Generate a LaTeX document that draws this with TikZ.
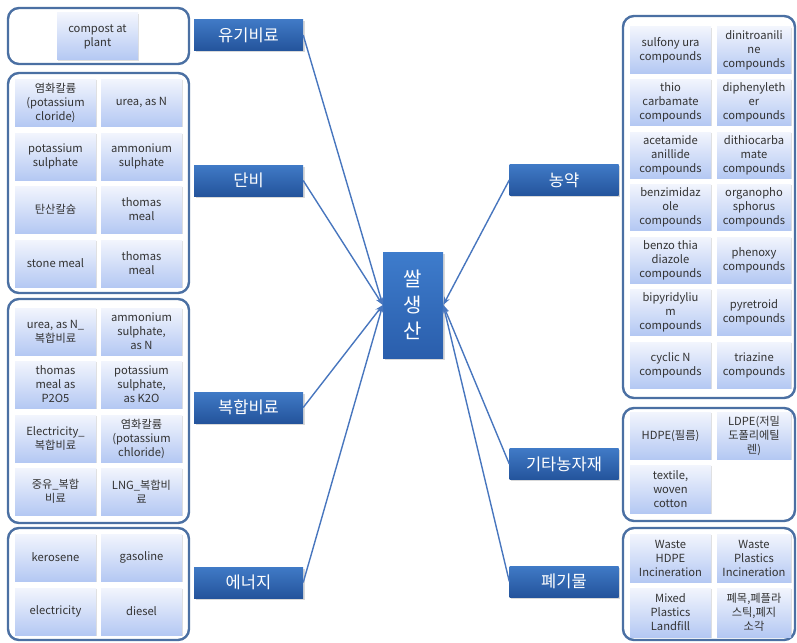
\documentclass[tikz,border=0pt]{standalone}
\usepackage{fontspec}
\setmainfont{Noto Sans CJK KR}
\usetikzlibrary{arrows.meta,shadows}

\definecolor{grpline}{RGB}{75,112,163}
\definecolor{itemtop}{RGB}{242,245,253}
\definecolor{itembot}{RGB}{180,200,243}
\definecolor{labtop}{RGB}{64,122,198}
\definecolor{labbot}{RGB}{36,84,156}
\definecolor{ctrtop}{RGB}{62,124,204}
\definecolor{ctrbot}{RGB}{42,94,172}
\definecolor{connc}{RGB}{72,118,190}
\definecolor{txt}{RGB}{51,51,51}

\tikzset{
  group/.style={draw=grpline, line width=2.4pt, rounded corners=11pt, fill=white, inner sep=0pt},
  item/.style={top color=itemtop, bottom color=itembot, inner sep=1pt, align=center,
    text=txt, font=\fontsize{11.2}{14}\selectfont,
    drop shadow={shadow xshift=1.2pt, shadow yshift=-1.2pt, opacity=0.25}},
  cat/.style={top color=labtop, bottom color=labbot, minimum width=109pt, minimum height=31pt,
    inner sep=0pt, text=white, font=\fontsize{16.5}{19}\selectfont,
    drop shadow={shadow xshift=1.5pt, shadow yshift=-1.5pt, opacity=0.3}},
  hub/.style={top color=ctrtop, bottom color=ctrbot, minimum width=60pt, minimum height=106pt,
    inner sep=0pt, text=white, align=center, font=\fontsize{20}{26}\selectfont,
    drop shadow={shadow xshift=1.5pt, shadow yshift=-1.5pt, opacity=0.3}},
  lw/.style={item, minimum width=81pt, minimum height=47pt},
  rw/.style={item, minimum width=81pt, minimum height=46pt},
  rn/.style={item, minimum width=74pt, minimum height=46pt},
  conn/.style={draw=connc, line width=1.4pt, -{Stealth[length=8pt,width=6pt]}}
}

\begin{document}
\begin{tikzpicture}[x=1pt,y=-1pt]
\useasboundingbox (0,0) rectangle (797,642);

% left-hand groups
\node[group, minimum width=181pt, minimum height=56pt] (g1) at (98.5,36) {};
\node[group, minimum width=181pt, minimum height=220pt] (g2) at (98.5,183) {};
\node[group, minimum width=181pt, minimum height=224pt] (g3) at (98.5,411) {};
\node[group, minimum width=181pt, minimum height=112pt] (g4) at (98.5,584) {};

% right-hand groups
\node[group, minimum width=172pt, minimum height=382pt] (g5) at (709,207) {};
\node[group, minimum width=172pt, minimum height=113pt] (g6) at (709,464.5) {};
\node[group, minimum width=172pt, minimum height=112pt] (g7) at (709,584) {};

% 유기비료
\node[lw] (a1) at (97.5,36.5) {compost at\\plant};

% 단비
\node[lw] (b1) at (55.5,102.5) {염화칼륨\\(potassium\\cloride)};
\node[lw] (b2) at (141.5,102.5) {urea, as N};
\node[lw] (b3) at (55.5,156.5) {potassium\\sulphate};
\node[lw] (b4) at (141.5,156.5) {ammonium\\sulphate};
\node[lw] (b5) at (55.5,209.5) {탄산칼슘};
\node[lw] (b6) at (141.5,209.5) {thomas\\meal};
\node[lw] (b7) at (55.5,263.5) {stone meal};
\node[lw] (b8) at (141.5,263.5) {thomas\\meal};

% 복합비료
\node[lw] (c1) at (55.5,331.5) {urea, as N\_\\복합비료};
\node[lw] (c2) at (141.5,331.5) {ammonium\\sulphate,\\as N};
\node[lw] (c3) at (55.5,384.5) {thomas\\meal as\\P2O5};
\node[lw] (c4) at (141.5,384.5) {potassium\\sulphate,\\as K2O};
\node[lw] (c5) at (55.5,438.5) {Electricity\_\\복합비료};
\node[lw] (c6) at (141.5,438.5) {염화칼륨\\(potassium\\chloride)};
\node[lw] (c7) at (55.5,491.5) {중유\_복합\\비료};
\node[lw] (c8) at (141.5,491.5) {LNG\_복합비\\료};

% 에너지
\node[lw] (d1) at (55.5,557.5) {kerosene};
\node[lw] (d2) at (141.5,557.5) {gasoline};
\node[lw] (d3) at (55.5,611.5) {electricity};
\node[lw] (d4) at (141.5,611.5) {diesel};

% 농약
\node[rw] (e1) at (670.5,50) {sulfony ura\\compounds};
\node[rn] (e2) at (754,50) {dinitroanili\\ne\\compounds};
\node[rw] (e3) at (670.5,102) {thio\\carbamate\\compounds};
\node[rn] (e4) at (754,102) {diphenyleth\\er\\compounds};
\node[rw] (e5) at (670.5,155) {acetamide\\anillide\\compounds};
\node[rn] (e6) at (754,155) {dithiocarba\\mate\\compounds};
\node[rw] (e7) at (670.5,207) {benzimidaz\\ole\\compounds};
\node[rn] (e8) at (754,207) {organopho\\sphorus\\compounds};
\node[rw] (e9) at (670.5,260) {benzo thia\\diazole\\compounds};
\node[rn] (e10) at (754,260) {phenoxy\\compounds};
\node[rw] (e11) at (670.5,312) {bipyridyliu\\m\\compounds};
\node[rn] (e12) at (754,312) {pyretroid\\compounds};
\node[rw] (e13) at (670.5,365) {cyclic N\\compounds};
\node[rn] (e14) at (754,365) {triazine\\compounds};

% 기타농자재
\node[rw, minimum height=47pt] (f1) at (670.5,435.5) {HDPE(필름)};
\node[rn, minimum height=47pt] (f2) at (754,435.5) {LDPE(저밀\\도폴리에틸\\렌)};
\node[rw, minimum height=48pt] (f3) at (670.5,489) {textile,\\woven\\cotton};

% 폐기물
\node[rw, minimum height=48pt] (h1) at (670.5,558) {Waste\\HDPE\\Incineration};
\node[rn, minimum height=48pt] (h2) at (754,558) {Waste\\Plastics\\Incineration};
\node[rw, minimum height=49pt] (h3) at (670.5,612.5) {Mixed\\Plastics\\Landfill};
\node[rn, minimum height=49pt] (h4) at (754,612.5) {폐목,폐플라\\스틱,폐지\\소각};

% category labels
\node[cat] (k1) at (248.5,35) {유기비료};
\node[cat] (k2) at (248.5,180.5) {단비};
\node[cat] (k3) at (248.5,407.5) {복합비료};
\node[cat] (k4) at (248.5,582.5) {에너지};
\node[cat] (k5) at (564,180) {농약};
\node[cat] (k6) at (564,464) {기타농자재};
\node[cat] (k7) at (564,581.5) {폐기물};

% central node
\node[hub] (rice) at (413,305) {쌀\\생\\산};

% connectors into the central node
\draw[conn] (k1.east) -- (rice.west);
\draw[conn] (k2.east) -- (rice.west);
\draw[conn] (k3.east) -- (rice.west);
\draw[conn] (k4.east) -- (rice.west);
\draw[conn] (k5.west) -- (rice.east);
\draw[conn] (k6.west) -- (rice.east);
\draw[conn] (k7.west) -- (rice.east);
\end{tikzpicture}
\end{document}
